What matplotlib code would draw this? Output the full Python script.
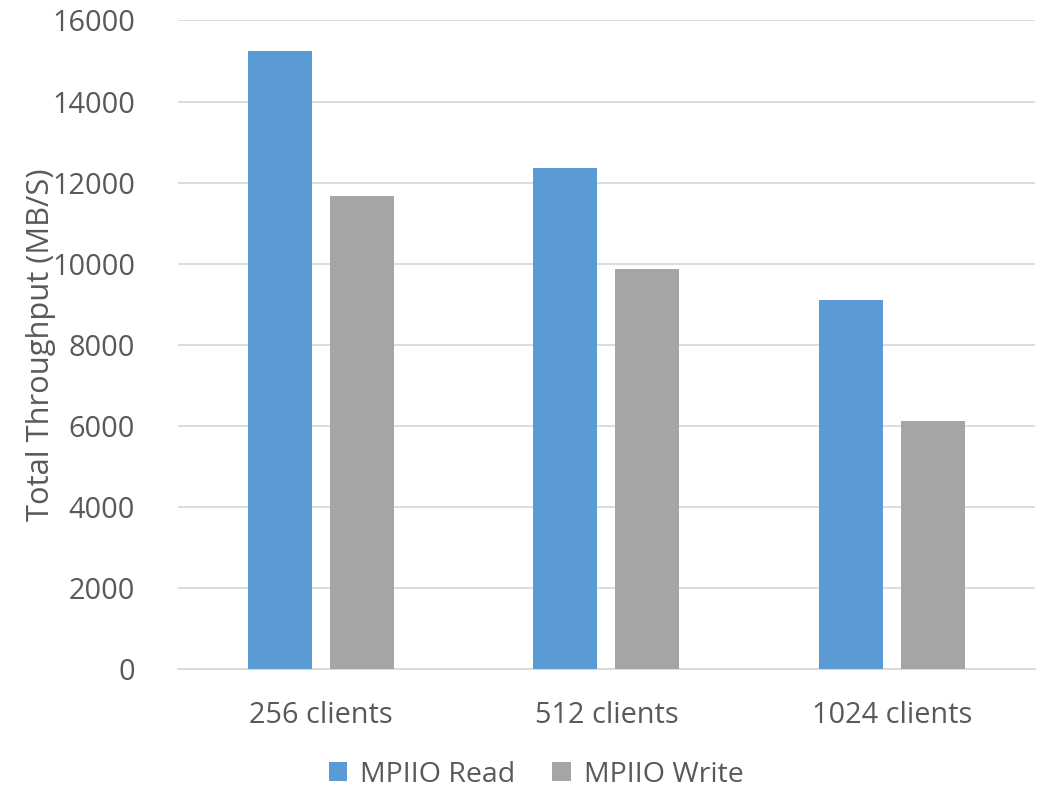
import numpy as np
import matplotlib
matplotlib.use('Agg')
import matplotlib.pyplot as plt

plt.rcParams['font.family'] = ['Open Sans', 'DejaVu Sans']

categories = ['256 clients', '512 clients', '1024 clients']
read_vals = [15240, 12350, 9110]
write_vals = [11670, 9870, 6120]
series_names = ['MPIIO Read', 'MPIIO Write']

blue = '#5B9BD5'
grey = '#A5A5A5'
txt = '#595959'

fig = plt.figure(figsize=(10.41, 7.87), dpi=100)
ax = fig.add_axes([0.171, 0.150, 0.823, 0.824])

x = np.arange(len(categories))
w = 0.224
off = (w + 0.063) / 2
ax.bar(x - off, read_vals, w, color=blue, label=series_names[0], zorder=3)
ax.bar(x + off, write_vals, w, color=grey, label=series_names[1], zorder=3)

ax.set_xlim(-0.5, 2.5)
ax.set_ylim(0, 16000)
ax.set_yticks(np.arange(0, 16001, 2000))
ax.yaxis.grid(True, color='#D9D9D9', linewidth=1.3, zorder=0)
for s in ['top', 'right', 'left']:
    ax.spines[s].set_visible(False)
ax.spines['bottom'].set_color('#D9D9D9')
ax.spines['bottom'].set_linewidth(1.3)
ax.tick_params(axis='both', length=0, labelsize=20.8, colors=txt)
ax.tick_params(axis='x', pad=23)
ax.tick_params(axis='y', pad=31)
ax.set_xticks(x)
ax.set_xticklabels(categories)
ax.set_ylabel('Total Throughput (MB/S)', fontsize=22.2, color=txt, labelpad=-3)

ax.legend(loc='center', bbox_to_anchor=(0.418, -0.163), ncol=2, frameon=False,
          fontsize=20.5, labelcolor=txt, handlelength=0.65, handleheight=0.65,
          handletextpad=0.45, columnspacing=1.3)

fig.savefig('out.png', dpi=100)
